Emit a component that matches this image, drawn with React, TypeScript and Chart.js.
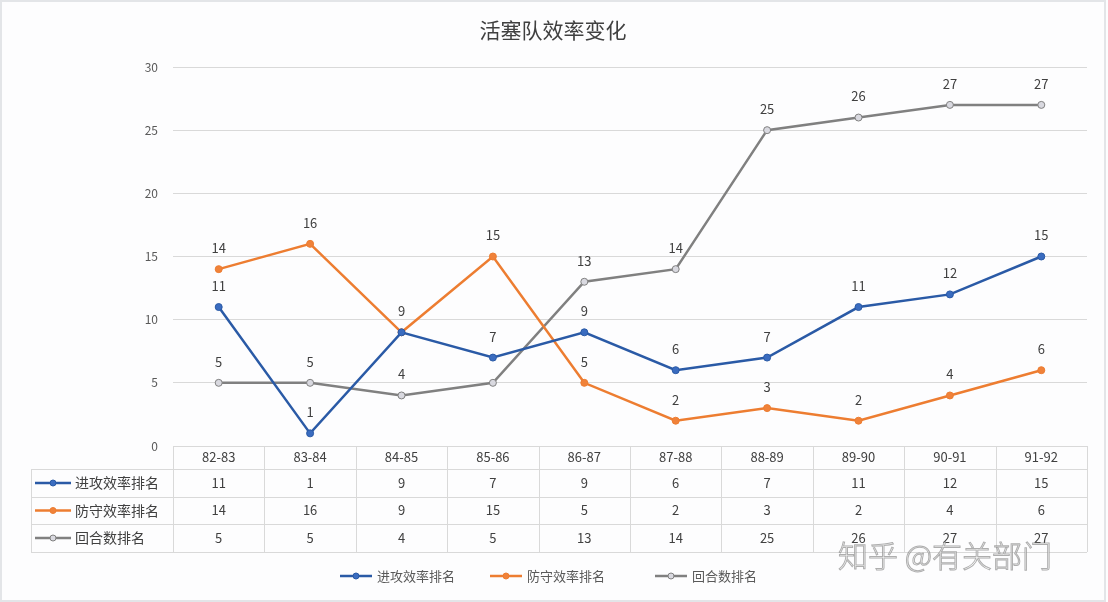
import React, { useEffect, useRef } from "react";
import { Chart, registerables } from "chart.js";

Chart.register(...registerables);

const title = "活塞队效率变化";
const categories = ["82-83", "83-84", "84-85", "85-86", "86-87", "87-88", "88-89", "89-90", "90-91", "91-92"];
const seriesNames = ["进攻效率排名", "防守效率排名", "回合数排名"];
const offense = [11, 1, 9, 7, 9, 6, 7, 11, 12, 15];
const defense = [14, 16, 9, 15, 5, 2, 3, 2, 4, 6];
const possessions = [5, 5, 4, 5, 13, 14, 25, 26, 27, 27];
const yTicks = { min: 0, max: 30, step: 5 };
const watermark = "知乎 @有关部门";

const colors = ["#2a5aa6", "#ed7d31", "#808080"];
const pointFills = ["#3a6cc0", "#f0823a", "#d9d9e0"];
const FONT = '"Noto Sans CJK SC", "Noto Sans", sans-serif';

export default function App() {
  const ref = useRef<HTMLCanvasElement | null>(null);

  useEffect(() => {
    document.body.style.margin = "0";
    const canvas = ref.current!;
    const seriesData = [offense, defense, possessions];

    const drawKey = (ctx: CanvasRenderingContext2D, x1: number, x2: number, y: number, i: number) => {
      ctx.save();
      ctx.strokeStyle = colors[i];
      ctx.lineWidth = 2.5;
      ctx.beginPath();
      ctx.moveTo(x1, y);
      ctx.lineTo(x2, y);
      ctx.stroke();
      ctx.beginPath();
      ctx.arc((x1 + x2) / 2, y, 3, 0, Math.PI * 2);
      ctx.fillStyle = pointFills[i];
      ctx.fill();
      ctx.lineWidth = 1;
      ctx.stroke();
      ctx.restore();
    };

    const bgPlugin = {
      id: "bg",
      beforeDraw(chart: any) {
        const ctx = chart.ctx as CanvasRenderingContext2D;
        ctx.save();
        ctx.fillStyle = "#fdfdfe";
        ctx.fillRect(0, 0, chart.width, chart.height);
        ctx.strokeStyle = "#e3e5e8";
        ctx.lineWidth = 2;
        ctx.strokeRect(1, 1, chart.width - 4, chart.height - 2);
        ctx.fillStyle = "#404040";
        ctx.font = `21px ${FONT}`;
        ctx.textAlign = "center";
        ctx.textBaseline = "middle";
        ctx.fillText(title, 553, 30);
        ctx.restore();
      },
    };

    const labelPlugin = {
      id: "labels",
      afterDatasetsDraw(chart: any) {
        const ctx = chart.ctx as CanvasRenderingContext2D;
        ctx.save();
        ctx.font = `13px ${FONT}`;
        ctx.fillStyle = "#404040";
        ctx.textAlign = "center";
        ctx.textBaseline = "middle";
        const drawn: { x: number; y: number; t: string }[] = [];
        chart.data.datasets.forEach((ds: any, di: number) => {
          const meta = chart.getDatasetMeta(di);
          meta.data.forEach((pt: any, i: number) => {
            const t = String(ds.data[i]);
            const lx = pt.x;
            const ly = pt.y - 21;
            // skip labels that would sit on another series' marker
            let blocked = false;
            chart.data.datasets.forEach((_o: any, oi: number) => {
              if (oi === di) return;
              const op = chart.getDatasetMeta(oi).data[i];
              if (op && Math.abs(op.x - lx) < 10 && Math.abs(op.y - ly) < 9) blocked = true;
            });
            if (drawn.some((d) => d.t === t && Math.abs(d.x - lx) < 2 && Math.abs(d.y - ly) < 2)) blocked = true;
            if (blocked) return;
            drawn.push({ x: lx, y: ly, t });
            ctx.fillText(t, lx, ly);
          });
        });
        ctx.restore();
      },
    };

    const tablePlugin = {
      id: "table",
      afterDraw(chart: any) {
        const ctx = chart.ctx as CanvasRenderingContext2D;
        const xs = chart.scales.x;
        const left = chart.chartArea.left;
        const right = chart.chartArea.right;
        const top = chart.chartArea.bottom;
        const rowsY = [top, top + 23, top + 51, top + 78, top + 106];
        const labelLeft = 31;
        const n = categories.length;
        const colW = (right - left) / n;
        ctx.save();
        ctx.strokeStyle = "#d9d9d9";
        ctx.lineWidth = 1;
        ctx.beginPath();
        ctx.moveTo(left, rowsY[0] + 0.5);
        ctx.lineTo(right, rowsY[0] + 0.5);
        for (let r = 1; r < rowsY.length; r++) {
          ctx.moveTo(labelLeft, Math.round(rowsY[r]) + 0.5);
          ctx.lineTo(right, Math.round(rowsY[r]) + 0.5);
        }
        for (let c = 0; c <= n; c++) {
          const x = Math.round(left + c * colW) + 0.5;
          ctx.moveTo(x, rowsY[0]);
          ctx.lineTo(x, rowsY[4]);
        }
        ctx.moveTo(labelLeft + 0.5, rowsY[1]);
        ctx.lineTo(labelLeft + 0.5, rowsY[4]);
        ctx.stroke();

        ctx.font = `13px ${FONT}`;
        ctx.fillStyle = "#404040";
        ctx.textAlign = "center";
        ctx.textBaseline = "middle";
        categories.forEach((c, i) => {
          const cx = xs.getPixelForValue(i);
          ctx.fillText(c, cx, (rowsY[0] + rowsY[1]) / 2);
          seriesData.forEach((arr, si) => {
            ctx.fillText(String(arr[i]), cx, (rowsY[si + 1] + rowsY[si + 2]) / 2);
          });
        });
        seriesNames.forEach((name, si) => {
          const cy = (rowsY[si + 1] + rowsY[si + 2]) / 2;
          drawKey(ctx, 35, 71, cy, si);
          ctx.fillStyle = "#404040";
          ctx.textAlign = "left";
          ctx.font = `14px ${FONT}`;
          ctx.fillText(name, 75, cy);
        });

        const legendX = [340, 490, 655];
        seriesNames.forEach((name, si) => {
          const x = legendX[si];
          drawKey(ctx, x, x + 32, 576, si);
          ctx.fillStyle = "#595959";
          ctx.textAlign = "left";
          ctx.font = `13px ${FONT}`;
          ctx.fillText(name, x + 37, 576);
        });

        ctx.font = `300 30px ${FONT}`;
        ctx.textAlign = "left";
        ctx.textBaseline = "middle";
        ctx.fillStyle = "rgba(255,255,255,0.8)";
        ctx.strokeStyle = "rgba(120,120,120,0.6)";
        ctx.lineWidth = 1;
        ctx.fillText(watermark, 838, 556);
        ctx.strokeText(watermark, 838, 556);
        ctx.restore();
      },
    };

    const chart = new Chart(canvas, {
      type: "line",
      data: {
        labels: categories,
        datasets: seriesData.map((arr, i) => ({
          label: seriesNames[i],
          data: arr,
          borderColor: colors[i],
          backgroundColor: pointFills[i],
          pointBackgroundColor: pointFills[i],
          pointBorderColor: colors[i],
          pointRadius: 3.5,
          pointBorderWidth: 1,
          borderWidth: 2.5,
          tension: 0,
          fill: false,
        })),
      },
      options: {
        responsive: false,
        animation: false,
        devicePixelRatio: 1,
        layout: { padding: { left: 0, right: 21, top: 67, bottom: 50 } },
        plugins: {
          legend: { display: false },
          title: { display: false },
          tooltip: { enabled: false },
        },
        scales: {
          x: {
            type: "category",
            offset: true,
            grid: { display: false },
            border: { display: false },
            ticks: { display: false },
            afterFit: (s: any) => {
              s.height = 106;
            },
          },
          y: {
            min: yTicks.min,
            max: yTicks.max,
            ticks: {
              stepSize: yTicks.step,
              padding: 15,
              color: "#595959",
              font: { size: 12, family: FONT },
            },
            grid: { color: "#d9d9d9", drawTicks: false },
            border: { display: false },
            afterFit: (s: any) => {
              s.width = 173;
            },
          },
        },
      },
      plugins: [bgPlugin, labelPlugin, tablePlugin],
    });

    return () => chart.destroy();
  }, []);

  return (
    <div style={{ width: 1108, height: 602 }}>
      <canvas ref={ref} width={1108} height={602} style={{ display: "block" }} />
    </div>
  );
}
